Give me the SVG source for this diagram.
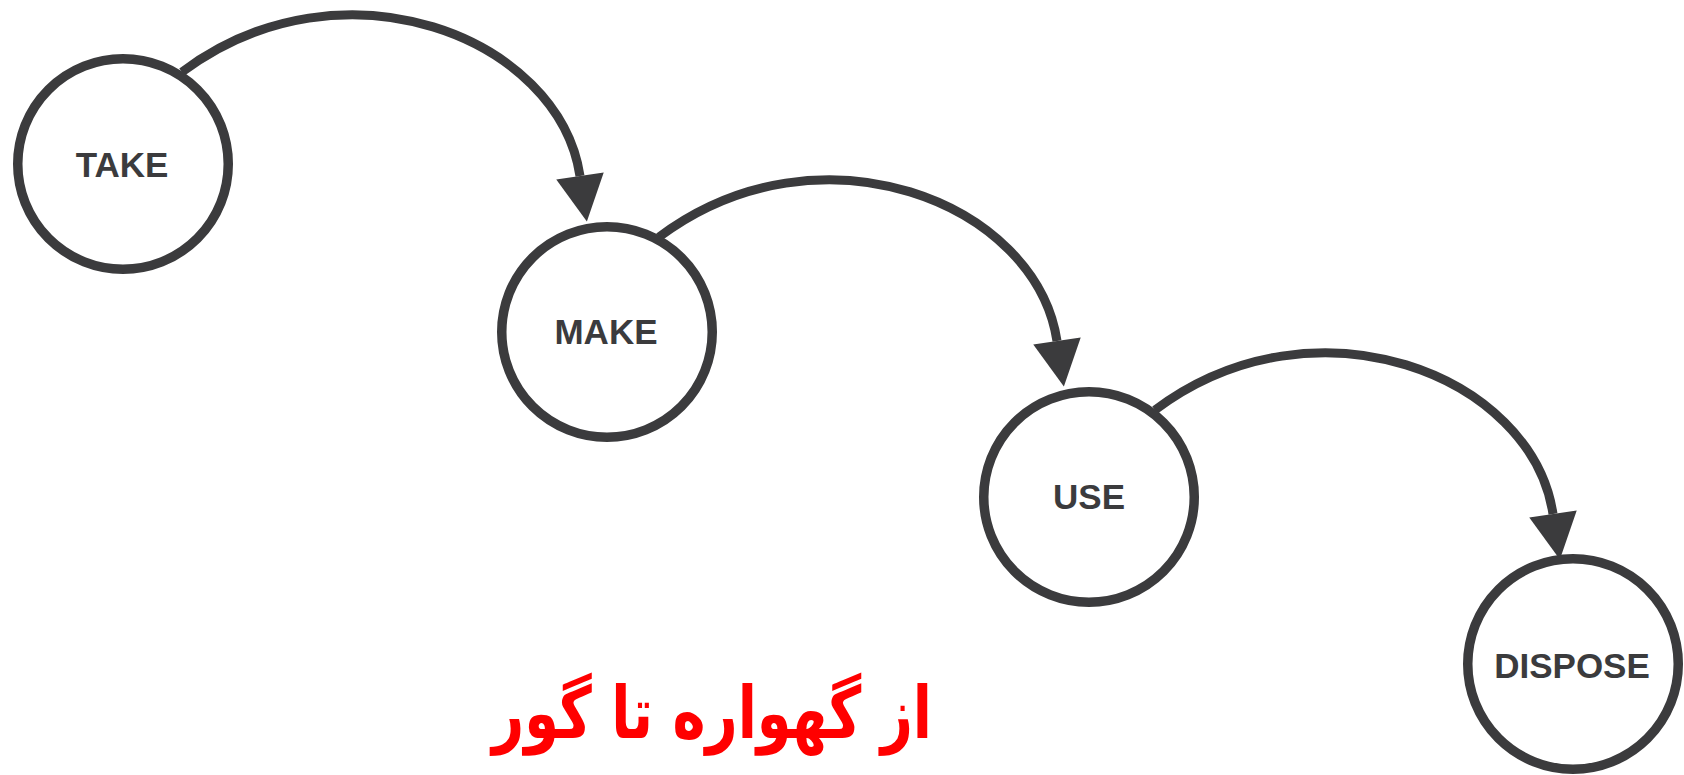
<svg xmlns="http://www.w3.org/2000/svg" width="1684" height="775" viewBox="0 0 1684 775">
<style>
.node circle{fill:#fff;stroke:#3b3b3d;stroke-width:9.5}
.node text{font-family:"Liberation Sans",Arial,sans-serif;font-weight:bold;font-size:35px;fill:#3b3b3d;text-anchor:middle}
.edge{fill:none;stroke:#3b3b3d;stroke-width:9;marker-end:url(#arrow)}
.title{font-family:"DejaVu Sans","Noto Sans",sans-serif;font-weight:bold;font-size:72px;fill:#ff0000;text-anchor:middle}
</style>
<defs>
<marker id="arrow" markerUnits="userSpaceOnUse" markerWidth="60" markerHeight="60" viewBox="0 -30 60 60" refX="0" refY="0" orient="auto" overflow="visible">
<path d="M0,-24 L46,0 L0,24 Z" fill="#3b3b3d"/>
</marker>
</defs>
<rect width="1684" height="775" fill="#fff"/>
<g id="connectors">
<path class="edge" d="M182,72 C342,-48 559,37 580,176"/>
<path class="edge" d="M659,237 C819,117 1036,202 1057,341"/>
<path class="edge" d="M1155,410 C1315,290 1532,375 1553,514"/>
</g>
<g id="take" class="node"><circle cx="123" cy="164" r="105.25"/><text x="122" y="177">TAKE</text></g>
<g id="make" class="node"><circle cx="607" cy="332" r="105.25"/><text x="606" y="344">MAKE</text></g>
<g id="use" class="node"><circle cx="1089" cy="497" r="105.25"/><text x="1089" y="509">USE</text></g>
<g id="dispose" class="node"><circle cx="1573" cy="664" r="105.25"/><text x="1572" y="678">DISPOSE</text></g>
<g id="title"><text class="title" x="712" y="738" direction="rtl" textLength="440" lengthAdjust="spacingAndGlyphs">از گهواره تا گور</text></g>
</svg>
